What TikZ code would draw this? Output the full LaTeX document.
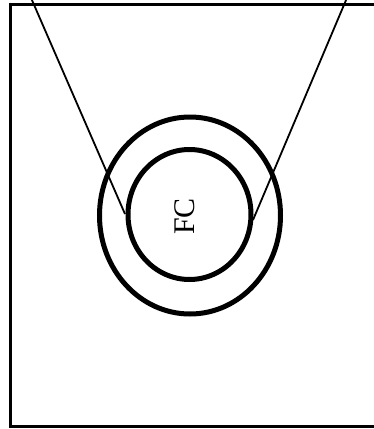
\documentclass[tikz,border=0pt]{standalone}
\usepackage{fontspec}
\setmainfont{Liberation Serif}
\usetikzlibrary{shapes.geometric}
\begin{document}
\begin{tikzpicture}[x=1pt,y=-1pt,
  ring/.style={draw=black, ellipse, line width=5pt, inner sep=0pt, outer sep=0pt},
  frame/.style={draw=black, line width=3pt},
  ray/.style={draw=black, line width=1.8pt}]
\useasboundingbox (0,0) rectangle (373,429);
\fill[white] (0,0) rectangle (373,429);
% frame (right side lies outside the picture)
\draw[frame] (380,4.5) -- (10.5,4.5) -- (10.5,426) -- (380,426);
% rings
\node[ring, minimum width=181pt, minimum height=197pt] (outer) at (190,215.5) {};
\node[ring, minimum width=123pt, minimum height=130pt] (inner) at (189.5,214.5) {};
% label
\node[inner sep=0pt, rotate=90, font=\fontsize{30}{30}\selectfont] (fc) at (185,216.5) {FC};
% rays
\coordinate (la) at (31.5,-1);
\coordinate (ra) at (346.5,-1);
\coordinate (lb) at (125,214);
\coordinate (rb) at (253,220);
\draw[ray] (la) -- (lb);
\draw[ray] (ra) -- (rb);
\end{tikzpicture}
\end{document}
